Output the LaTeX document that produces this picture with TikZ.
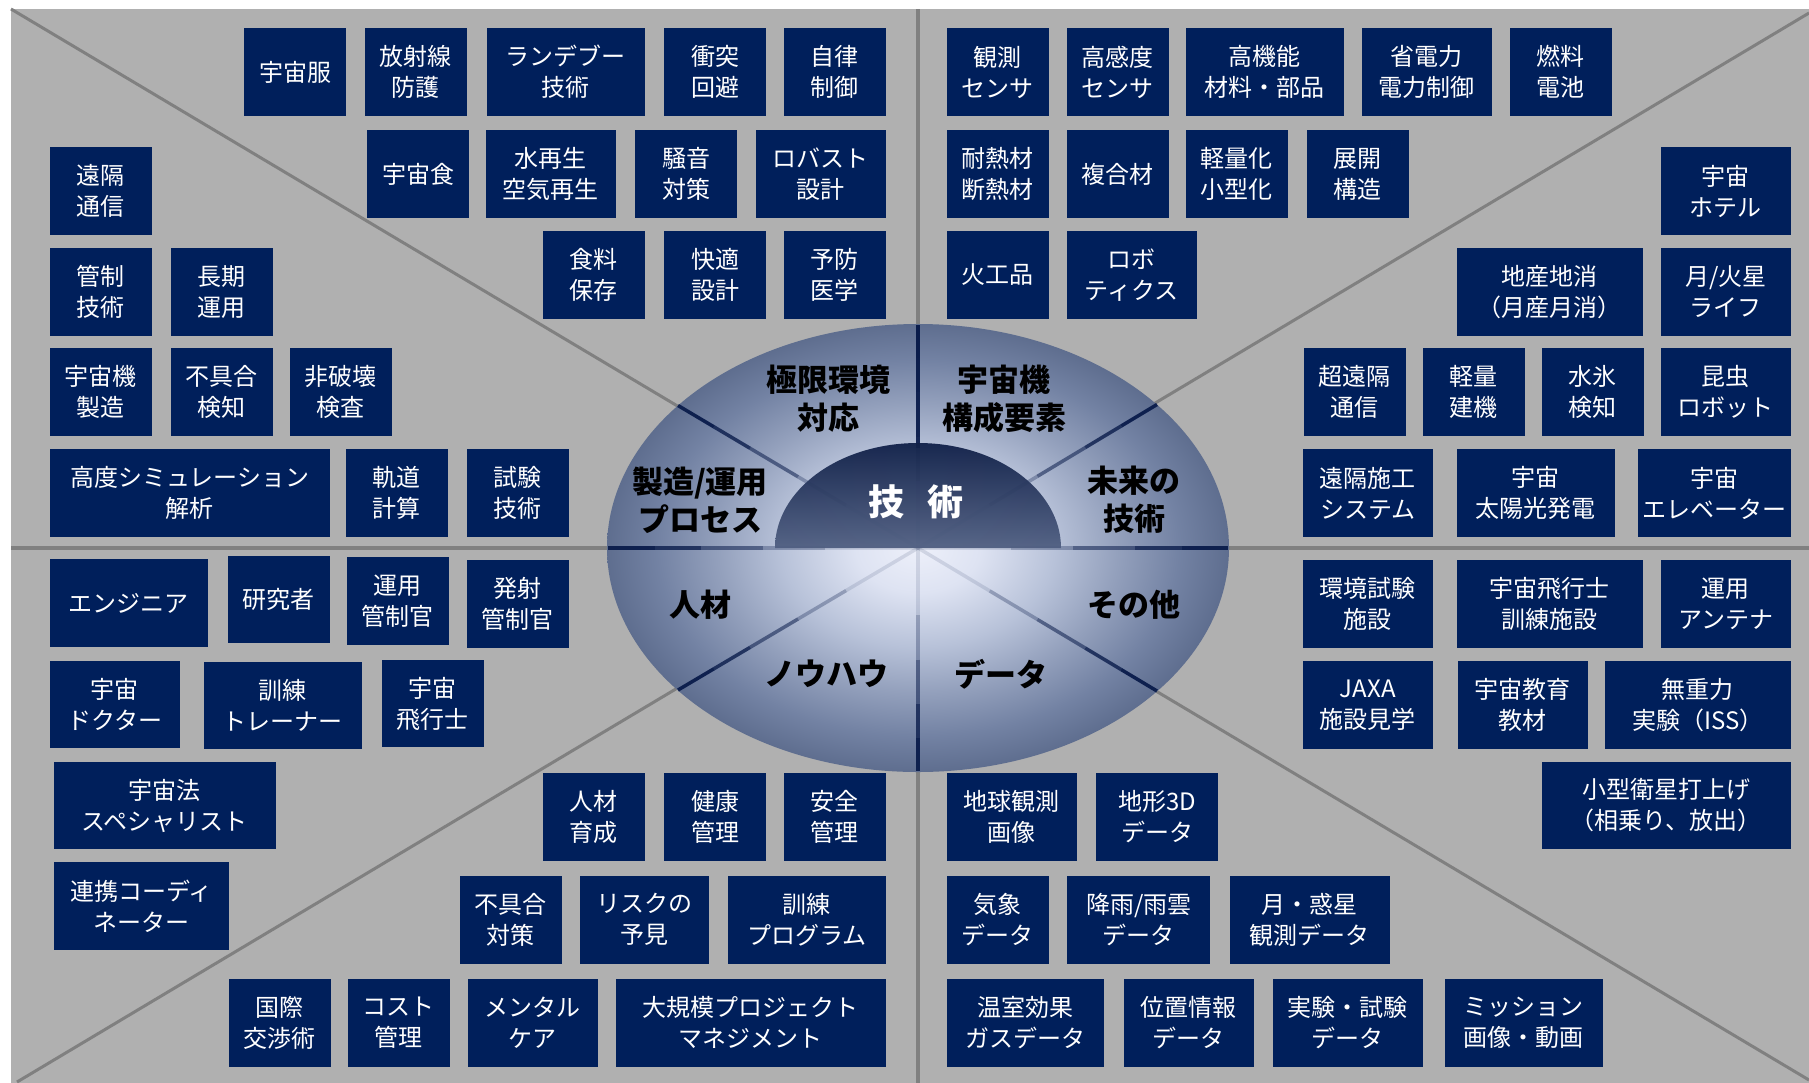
\documentclass[tikz,border=0pt]{standalone}
\usepackage{fontspec}
\usepackage{graphicx}
\setmainfont{Noto Sans CJK JP}
\usetikzlibrary{calc}
\definecolor{navy}{RGB}{0,31,91}
\definecolor{bggray}{RGB}{176,176,176}
\definecolor{lgray}{RGB}{128,128,128}
\definecolor{spokec}{RGB}{10,28,75}
\definecolor{semitop}{RGB}{16,32,72}
\definecolor{semimid}{RGB}{38,54,94}
\definecolor{semibot}{RGB}{80,95,130}
\pgfdeclareradialshading{elshade}{\pgfpoint{0bp}{0bp}}{%
 rgb(0bp)=(0.93,0.94,0.98);
 rgb(5bp)=(0.87,0.89,0.95);
 rgb(11bp)=(0.72,0.76,0.85);
 rgb(16bp)=(0.58,0.63,0.74);
 rgb(21bp)=(0.45,0.51,0.64);
 rgb(25bp)=(0.37,0.43,0.56);
 rgb(50bp)=(0.37,0.43,0.56)}
\newcommand\bx[6]{\node[bx, minimum width={(#4)-(#2)}, minimum height={(#5)-(#3)}] (#1) at ({((#2)+(#4))/2},{((#3)+(#5))/2}) {#6};}
\tikzset{
 bx/.style={fill=navy, text=white, inner sep=0pt, outer sep=0pt, align=center, font=\fontsize{24}{31}\selectfont},
 lab/.style={align=center, text=black, font=\bfseries\fontsize{31}{38}\selectfont},
 grayline/.style={draw=lgray, line width=3pt},
}
\begin{document}
\begin{tikzpicture}[x=1pt,y=-1pt]
\useasboundingbox (0,0) rectangle (1809,1082);
\fill[bggray] (11,9) rectangle (1815,1090);
% structure coordinates
\coordinate (ctr) at (918,548);
\coordinate (cTL) at (11,9);
\coordinate (cBR) at (1809,1080);
\coordinate (cTR) at (1809,13);
\coordinate (cBL) at (17,1082);
\coordinate (cT) at (918,9);
\coordinate (cB) at (918,1090);
\coordinate (cL) at (11,548);
\coordinate (cR) at (1815,548);
\draw[grayline] (cTL) -- (cBR);
\draw[grayline] (cTR) -- (cBL);
\draw[grayline, line width=4pt] (cT) -- (cB);
\draw[grayline, line width=4pt] (cL) -- (cR);
% central ellipse
\shade[shading=elshade] (ctr) ellipse [x radius=311, y radius=224];
% spoke ends on the ellipse
\coordinate (sU) at (918,325);
\coordinate (sD) at (918,771);
\coordinate (sL) at (608,548);
\coordinate (sR) at (1228,548);
\coordinate (sUL) at (678,405.5);
\coordinate (sUR) at (1157,404.5);
\coordinate (sDL) at (678,690);
\coordinate (sDR) at (1157,691);
\foreach \e in {sU,sD,sL,sR,sUL,sUR,sDL,sDR}{
  \foreach \p/\q/\o in {0/0.3/0.12, 0.3/0.5/0.3, 0.5/0.7/0.55, 0.7/0.85/0.8, 0.85/1/0.95}{
    \draw[spokec, line width=3.5pt, opacity=\o] ($(ctr)!\p!(\e)$) -- ($(ctr)!\q!(\e)$);
  }
}
\draw[spokec, line width=3.5pt, opacity=0.9] (sU) -- ($(ctr)!0.45!(sU)$);
% inner half disc
\shade[top color=semitop, middle color=semimid, bottom color=semibot, opacity=0.95]
  (775,548) arc[start angle=180, end angle=360, x radius=143, y radius=105] -- cycle;
\node[text=white, font=\bfseries\fontsize{36}{40}\selectfont] (tech) at (916,502) {技\hspace{24pt}術};
% sector labels
\node[lab] (l1) at (828,399) {極限環境\\対応};
\node[lab] (l2) at (1004,399) {宇宙機\\構成要素};
\node[lab] (l3) at (700,500) {製造/運用\\プロセス};
\node[lab] (l4) at (1134,500) {未来の\\技術};
\node[lab] (l5) at (700,605) {人材};
\node[lab] (l6) at (1134,605) {その他};
\node[lab] (l7) at (826,674) {ノウハウ};
\node[lab] (l8) at (1001,674) {データ};
% ---- top-left quadrant
\bx{a1}{244}{28}{346}{116}{宇宙服}
\bx{a2}{365}{28}{466.5}{116}{放射線\\防護}
\bx{a3}{487}{28}{644.5}{116}{ランデブー\\技術}
\bx{a4}{664}{28}{766}{116}{衝突\\回避}
\bx{a5}{784}{28}{885.6}{116}{自律\\制御}
\bx{a6}{367}{130}{469}{218}{宇宙食}
\bx{a7}{486}{130}{615.5}{218}{水再生\\空気再生}
\bx{a8}{635}{130}{737}{218}{騒音\\対策}
\bx{a9}{756}{130}{885.6}{218}{ロバスト\\設計}
\bx{a10}{543}{231}{644.5}{319}{食料\\保存}
\bx{a11}{664}{231}{766}{319}{快適\\設計}
\bx{a12}{784}{231}{885.6}{319}{予防\\医学}
\bx{a13}{50}{147}{151.5}{235}{遠隔\\通信}
\bx{a14}{50}{248}{151.5}{336}{管制\\技術}
\bx{a15}{171}{248}{272.5}{336}{長期\\運用}
\bx{a16}{50}{348}{151.5}{436}{宇宙機\\製造}
\bx{a17}{171}{348}{272.5}{436}{不具合\\検知}
\bx{a18}{290}{348}{391.5}{436}{非破壊\\検査}
\bx{a19}{50}{449}{329.5}{537}{高度シミュレーション\\解析}
\bx{a20}{346}{449}{447.8}{537}{軌道\\計算}
\bx{a21}{467}{449}{568.7}{537}{試験\\技術}
% ---- top-right quadrant
\bx{b1}{947}{28}{1048.5}{116}{観測\\センサ}
\bx{b2}{1067}{28}{1168.5}{116}{高感度\\センサ}
\bx{b3}{1186}{28}{1343.7}{116}{高機能\\材料・部品}
\bx{b4}{1362}{28}{1491.7}{116}{省電力\\電力制御}
\bx{b5}{1510}{28}{1611.7}{116}{燃料\\電池}
\bx{b6}{947}{130}{1048.5}{218}{耐熱材\\断熱材}
\bx{b7}{1067}{130}{1168.5}{218}{複合材}
\bx{b8}{1186}{130}{1287.8}{218}{軽量化\\小型化}
\bx{b9}{1306.8}{130}{1408.6}{218}{展開\\構造}
\bx{b10}{947}{231}{1048.5}{319}{火工品}
\bx{b11}{1067}{231}{1196.7}{319}{ロボ\\ティクス}
\bx{b12}{1661}{147}{1790.7}{235}{宇宙\\ホテル}
\bx{b13}{1457}{248}{1642.8}{336}{地産地消\\（月産月消）}
\bx{b14}{1661}{248}{1790.7}{336}{月/火星\\ライフ}
\bx{b15}{1304}{348}{1405.7}{436}{超遠隔\\通信}
\bx{b16}{1423}{348}{1524.7}{436}{軽量\\建機}
\bx{b17}{1542}{348}{1643.7}{436}{水氷\\検知}
\bx{b18}{1661}{348}{1790.7}{436}{昆虫\\ロボット}
\bx{b19}{1303}{449}{1432.5}{537}{遠隔施工\\システム}
\bx{b20}{1457}{449}{1614.7}{537}{宇宙\\太陽光発電}
\bx{b21}{1638}{449}{1790.7}{537}{宇宙\\エレベーター}
% ---- bottom-right quadrant
\bx{c1}{1303}{560}{1432.5}{648}{環境試験\\施設}
\bx{c2}{1457}{560}{1642.6}{648}{宇宙飛行士\\訓練施設}
\bx{c3}{1661}{560}{1790.7}{648}{運用\\アンテナ}
\bx{c4}{1303}{661}{1432.5}{749}{JAXA\\施設見学}
\bx{c5}{1458}{661}{1587.5}{749}{宇宙教育\\教材}
\bx{c6}{1605}{661}{1790.7}{749}{無重力\\実験（ISS）}
\bx{c7}{1542}{762}{1790.7}{849}{小型衛星打上げ\\（相乗り、放出）}
\bx{c8}{947}{773}{1076.6}{860.5}{地球観測\\画像}
\bx{c9}{1096}{773}{1218}{860.5}{地形3D\\データ}
\bx{c10}{947}{876}{1048.5}{963.5}{気象\\データ}
\bx{c11}{1067}{876}{1210.4}{963.5}{降雨/雨雲\\データ}
\bx{c12}{1230}{876}{1389.5}{963.5}{月・惑星\\観測データ}
\bx{c13}{947}{979}{1104.3}{1066.5}{温室効果\\ガスデータ}
\bx{c14}{1124}{979}{1253.6}{1066.5}{位置情報\\データ}
\bx{c15}{1273}{979}{1422.6}{1066.5}{実験・試験\\データ}
\bx{c16}{1445}{979}{1602.8}{1066.5}{ミッション\\画像・動画}
% ---- bottom-left quadrant
\bx{d1}{50}{559}{207.8}{647}{エンジニア}
\bx{d2}{228}{556}{329.5}{643}{研究者}
\bx{d3}{347}{557}{448.5}{645}{運用\\管制官}
\bx{d4}{467}{560}{568.7}{648}{発射\\管制官}
\bx{d5}{50}{661}{179.5}{748}{宇宙\\ドクター}
\bx{d6}{204}{662}{361.6}{749}{訓練\\トレーナー}
\bx{d7}{382}{660}{483.7}{747}{宇宙\\飛行士}
\bx{d8}{54}{762}{275.5}{849}{宇宙法\\スペシャリスト}
\bx{d9}{54}{862}{228.5}{950}{連携コーディ\\ネーター}
\bx{d10}{543}{773}{644.5}{860.5}{人材\\育成}
\bx{d11}{664}{773}{766}{860.5}{健康\\管理}
\bx{d12}{784}{773}{885.6}{860.5}{安全\\管理}
\bx{d13}{460}{876}{561.8}{963.5}{不具合\\対策}
\bx{d14}{580}{876}{709.3}{963.5}{リスクの\\予見}
\bx{d15}{728}{876}{885.6}{963.5}{訓練\\プログラム}
\bx{d16}{229}{979}{330.7}{1066.5}{国際\\交渉術}
\bx{d17}{348}{979}{449.7}{1066.5}{コスト\\管理}
\bx{d18}{468}{979}{597.8}{1066.5}{メンタル\\ケア}
\bx{d19}{616}{979}{885.6}{1066.5}{大規模プロジェクト\\マネジメント}
\end{tikzpicture}
\end{document}
